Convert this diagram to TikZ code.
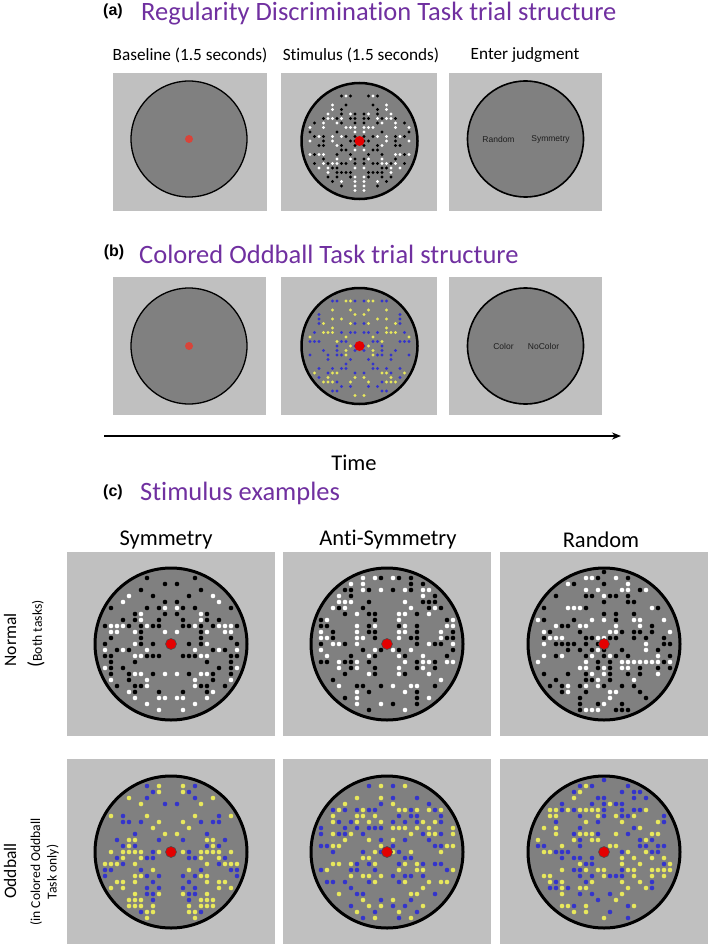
\documentclass[tikz,border=0pt]{standalone}
\usepackage{fontspec}
\setmainfont{Carlito}[Ligatures=NoCommon]
\newfontfamily\arialfont{Liberation Sans}
\usetikzlibrary{arrows.meta, positioning}
\usepackage{xcolor}
\definecolor{boxgray}{RGB}{192, 192, 192}
\definecolor{discgray}{RGB}{128, 128, 128}
\definecolor{titlepurple}{RGB}{112, 48, 160}
\definecolor{fixred}{RGB}{216, 68, 58}
\definecolor{stimred}{RGB}{228, 0, 0}
\definecolor{dotblue}{RGB}{52, 52, 204}
\definecolor{dotyellow}{RGB}{232, 232, 92}
\definecolor{judgetext}{RGB}{30, 30, 30}

% mirrored dot field: spacing, dot radius, mode (0 = symmetry, 1 = anti-symmetry), colour A, colour B
\newcommand{\mirrorfield}[5]{%
  \foreach \i in {1,...,12}{%
    \foreach \j in {-12,...,12}{%
      \pgfmathtruncatemacro{\inside}{\i*\i+\j*\j<=144}%
      \ifnum\inside=1
        \pgfmathrandominteger{\pick}{0}{99}%
        \ifnum\pick<38
          \pgfmathrandominteger{\tone}{0}{1}%
          \ifnum\tone=0 \def\rc{#4}\def\lc{#5}\else\def\rc{#5}\def\lc{#4}\fi
          \ifnum#3=0 \let\lc\rc\fi
          \fill[color=\rc] (\i*#1,\j*#1) circle[radius=#2];
          \fill[color=\lc] (-\i*#1,\j*#1) circle[radius=#2];
        \fi
      \fi
    }%
  }%
}
% random dot field: spacing, dot radius, colour A, colour B
\newcommand{\randfield}[4]{%
  \foreach \i in {-12,...,12}{%
    \foreach \j in {-12,...,12}{%
      \pgfmathtruncatemacro{\inside}{\i*\i+\j*\j<=144}%
      \ifnum\inside=1
        \pgfmathrandominteger{\pick}{0}{99}%
        \ifnum\pick<36
          \pgfmathrandominteger{\tone}{0}{1}%
          \ifnum\tone=0 \def\rc{#3}\else\def\rc{#4}\fi
          \fill[color=\rc] (\i*#1,\j*#1) circle[radius=#2];
        \fi
      \fi
    }%
  }%
}

\begin{document}
\begin{tikzpicture}[
    x=1pt, y=-1pt,
    >={Stealth[length=9pt, width=7pt]},
    % Node styles
    smallpanel/.style={rectangle, fill=boxgray, inner sep=0pt, minimum width=154pt, minimum height=138pt},
    bigpanel/.style={rectangle, fill=boxgray, inner sep=0pt, minimum width=208pt, minimum height=184pt},
    disc/.style={circle, draw=black, fill=discgray, inner sep=0pt, minimum size=116pt, line width=1.3pt},
    bigdisc/.style={circle, draw=black, fill=discgray, inner sep=0pt, minimum size=152pt, line width=3pt},
    paneltag/.style={inner sep=0pt, font=\arialfont\bfseries\fontsize{16}{18}\selectfont},
    paneltitle/.style={anchor=west, inner sep=0pt, text=titlepurple, font=\fontsize{26.5}{31}\selectfont},
    colhead/.style={inner sep=0pt, font=\fontsize{17.2}{20}\selectfont},
    bighead/.style={inner sep=0pt, font=\fontsize{22.5}{26}\selectfont},
    judge/.style={inner sep=0pt, text=judgetext, font=\arialfont\fontsize{8.5}{10}\selectfont},
    rowlabel/.style={rotate=90, inner sep=0pt, font=\fontsize{17.5}{21}\selectfont},
    rownote/.style={rotate=90, inner sep=0pt, align=center, font=\fontsize{13.6}{16.5}\selectfont},
    % Arrow styles
    timeline/.style={->, line width=2pt},
]
\useasboundingbox (0,0) rectangle (709,944);

% Panel (a)
\node[paneltag] (atag) at (113,11) {(a)};
\node[paneltitle] (atitle) at (141,14) {Regularity Discrimination Task trial structure};
\node[colhead] (ahead1) at (190,55) {Baseline (1.5 seconds)};
\node[colhead] (ahead2) at (361,55) {Stimulus (1.5 seconds)};
\node[colhead] (ahead3) at (525,55) {Enter judgment};

\node[smallpanel] (abase) at (190,142) {};
\node[smallpanel, minimum width=156pt] (astim) at (359,142) {};
\node[smallpanel, minimum width=153pt] (ajudge) at (525.5,142) {};

\node[disc] (adisc1) at (189,139) {};
\node[disc, line width=2.5pt] (adisc2) at (359.5,141) {};
\node[disc, line width=1.6pt] (adisc3) at (525.5,139) {};

\fill[fixred] (adisc1.center) circle[radius=4pt];
\begin{scope}[shift={(adisc2.center)}]
  \pgfmathsetseed{7}
  \mirrorfield{4.5}{1.7pt}{0}{white}{black}
\end{scope}
\fill[stimred] (adisc2.center) circle[radius=5pt];
\node[judge] (arandom) at ([xshift=-27pt]adisc3.center) {Random};
\node[judge] (asymm) at ([xshift=25pt]adisc3.center) {Symmetry};

% Panel (b)
\node[paneltag] (btag) at (114,252) {(b)};
\node[paneltitle] (btitle) at (139,254) {Colored Oddball Task trial structure};

\node[smallpanel, minimum width=153pt] (bbase) at (189.5,346) {};
\node[smallpanel, minimum width=156pt] (bstim) at (359,346) {};
\node[smallpanel, minimum width=153pt] (bjudge) at (525.5,346) {};

\node[disc] (bdisc1) at (189,346) {};
\node[disc, line width=2.5pt] (bdisc2) at (359.5,346) {};
\node[disc, line width=1.6pt] (bdisc3) at (525.5,346) {};

\fill[fixred] (bdisc1.center) circle[radius=4pt];
\begin{scope}[shift={(bdisc2.center)}]
  \pgfmathsetseed{19}
  \mirrorfield{4.5}{1.7pt}{0}{dotyellow}{dotblue}
\end{scope}
\fill[stimred] (bdisc2.center) circle[radius=5pt];
\node[judge] (bcolor) at ([xshift=-22pt]bdisc3.center) {Color};
\node[judge] (bnocolor) at ([xshift=18pt]bdisc3.center) {NoColor};

% Time axis
\coordinate (tstart) at (104,436);
\coordinate (tend) at (621,436);
\draw[timeline] (tstart) -- (tend);
\node[bighead] (timelab) at (354,463) {Time};

% Panel (c)
\node[paneltag] (ctag) at (113,492) {(c)};
\node[paneltitle] (ctitle) at (140,493) {Stimulus examples};
\node[bighead] (chead1) at (166,540) {Symmetry};
\node[bighead] (chead2) at (388,540) {Anti-Symmetry};
\node[bighead] (chead3) at (601,540) {Random};

\node[bigpanel] (csym) at (171,644) {};
\node[bigpanel] (canti) at (387,644) {};
\node[bigpanel] (crand) at (604,644) {};
\node[bigpanel, minimum height=185pt] (osym) at (171,851.5) {};
\node[bigpanel, minimum height=185pt] (oanti) at (387,851.5) {};
\node[bigpanel, minimum height=185pt] (orand) at (604,851.5) {};

\node[bigdisc] (cdisc1) at (171,644) {};
\node[bigdisc] (cdisc2) at (387,644) {};
\node[bigdisc] (cdisc3) at (604,644) {};
\node[bigdisc] (odisc1) at (171,852) {};
\node[bigdisc] (odisc2) at (387,852) {};
\node[bigdisc] (odisc3) at (604,852) {};

% Dot patterns, normal row
\begin{scope}[shift={(cdisc1.center)}]
  \pgfmathsetseed{31}
  \mirrorfield{6}{2.3pt}{0}{white}{black}
\end{scope}
\begin{scope}[shift={(cdisc2.center)}]
  \pgfmathsetseed{43}
  \mirrorfield{6}{2.3pt}{1}{white}{black}
\end{scope}
\begin{scope}[shift={(cdisc3.center)}]
  \pgfmathsetseed{57}
  \randfield{6}{2.3pt}{white}{black}
\end{scope}
% Dot patterns, oddball row
\begin{scope}[shift={(odisc1.center)}]
  \pgfmathsetseed{61}
  \mirrorfield{6}{2.3pt}{0}{dotyellow}{dotblue}
\end{scope}
\begin{scope}[shift={(odisc2.center)}]
  \pgfmathsetseed{73}
  \mirrorfield{6}{2.3pt}{1}{dotyellow}{dotblue}
\end{scope}
\begin{scope}[shift={(odisc3.center)}]
  \pgfmathsetseed{89}
  \randfield{6}{2.3pt}{dotyellow}{dotblue}
\end{scope}

\foreach \d in {cdisc1, cdisc2, cdisc3, odisc1, odisc2, odisc3}
  \filldraw[fill=stimred, draw=black!70, line width=0.6pt] (\d.center) circle[radius=5.5pt];

% Row labels
\node[rowlabel] (normlab) at (10,640) {Normal};
\node[rownote] (normnote) at (36,634) {{\fontsize{20}{20}\selectfont(}Both tasks)};
\node[rowlabel] (oddlab) at (10,871) {Oddball};
\node[rownote] (oddnote) at (44.5,872) {(in Colored Oddball\\Task only)};

\end{tikzpicture}
\end{document}
